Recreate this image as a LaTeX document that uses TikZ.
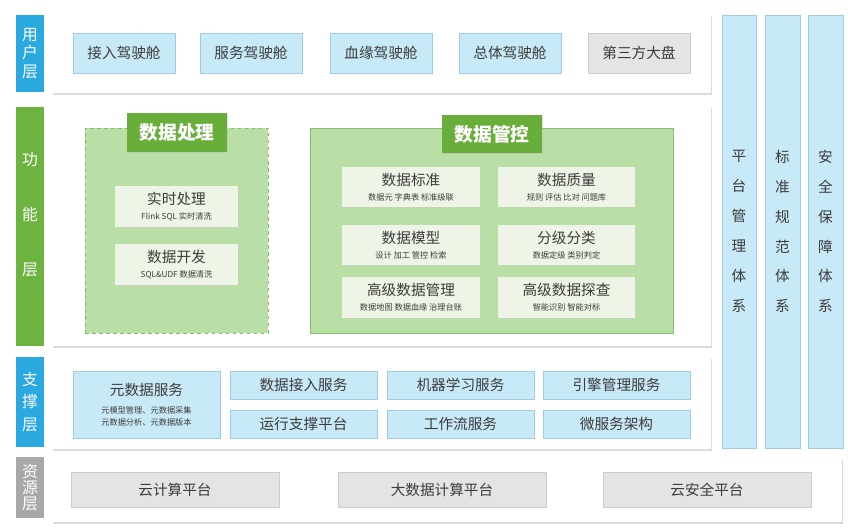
\documentclass[tikz,border=0pt]{standalone}
\usepackage{fontspec}
\setmainfont{Noto Sans CJK SC}
\usetikzlibrary{positioning,shadows}
\definecolor{layblue}{HTML}{2AA8E0}
\definecolor{laygreen}{HTML}{6DB33F}
\definecolor{laygray}{HTML}{A8A8A8}
\definecolor{tabgreen}{HTML}{69AE3B}
\definecolor{areagreen}{HTML}{B9DFA6}
\definecolor{linegreen}{HTML}{86BF68}
\definecolor{paleg}{HTML}{EEF5E6}
\definecolor{paleblue}{HTML}{C8E9F7}
\definecolor{edgeblue}{HTML}{9ECDE2}
\definecolor{palegray}{HTML}{E4E4E4}
\definecolor{edgegray}{HTML}{CCCCCC}
\definecolor{inktext}{HTML}{3C3C3C}
\newcommand\subfnt{\fontsize{7}{8}\selectfont}
\tikzset{
  wh/.style 2 args={minimum width=#1*0.03cm,minimum height=#2*0.03cm},
  layer/.style={fill=#1,text=white,inner sep=0,align=center,
                font=\fontsize{13.5}{17}\selectfont},
  panel/.style={fill=white,inner sep=0,
                drop shadow={shadow xshift=1pt,shadow yshift=-2pt,fill=black!28}},
  bluebox/.style={draw=edgeblue,fill=paleblue,inner sep=0,align=center,text=inktext,
                  font=\fontsize{12.5}{14}\selectfont,
                  drop shadow={shadow xshift=0.6pt,shadow yshift=-0.9pt,fill=black!25}},
  graybox/.style={bluebox,draw=edgegray,fill=palegray},
  gbox/.style={fill=paleg,inner sep=0,align=center,text=inktext,
               font=\fontsize{12.5}{15}\selectfont,
               drop shadow={shadow xshift=0.6pt,shadow yshift=-0.9pt,fill=black!20}},
  area/.style={fill=areagreen,draw=linegreen,thick,inner sep=0},
  tab/.style={fill=tabgreen,text=white,inner sep=0,
              font=\bfseries\fontsize{16}{18}\selectfont,
              drop shadow={shadow xshift=0.8pt,shadow yshift=-1.2pt,fill=black!25}},
  column/.style={draw=edgeblue,fill=paleblue,inner sep=0,align=center,text=inktext,
                 font=\fontsize{12.5}{25.5}\selectfont}
}
\begin{document}
\begin{tikzpicture}[x=0.03cm,y=-0.03cm]
  \useasboundingbox (0,0) rectangle (848,531);
  % user layer
  \node[layer=layblue, wh={28}{77}] (lyuser) at (30,53.5) {用\\[-1pt]户\\[-1pt]层};
  \node[panel, wh={659}{79}] (pnuser) at (381.5,53.5) {};
  \foreach \x/\t [count=\i] in {124/接入驾驶舱,251/服务驾驶舱,381/血缘驾驶舱,510/总体驾驶舱}
    \node[bluebox, wh={102}{40}] (cab\i) at (\x,53) {\t};
  \node[graybox, wh={102}{40}] (third) at (639,53) {第三方大盘};
  % function layer
  \node[layer=laygreen, wh={28}{239}] (lyfunc) at (30,226.5) {功\\[30pt]能\\[30pt]层\\[4pt]\mbox{}};
  \node[panel, wh={659}{240}] (pnfunc) at (381.5,226) {};
  \node[area, dashed, wh={183}{205}] (proc) at (176.5,230.5) {};
  \node[tab, wh={100}{39}] (proctab) at (177,132.5) {数据处理};
  \node[gbox, wh={123}{41}] (realtime) at (176.5,206.5) {实时处理\\[-2pt]{\subfnt Flink SQL 实时清洗}};
  \node[gbox, wh={123}{41}] (devel) at (176.5,264.5) {数据开发\\[-2pt]{\subfnt SQL\&UDF 数据清洗}};
  \node[area, wh={363}{205}] (ctrl) at (491.5,230.5) {};
  \node[tab, wh={100}{38}] (ctrltab) at (492,134) {数据管控};
  \node[gbox, wh={138}{40}] (std) at (411,187) {数据标准\\[-2pt]{\subfnt 数据元 字典表 标准级联}};
  \node[gbox, wh={137}{40}] (qual) at (566.5,187) {数据质量\\[-2pt]{\subfnt 规则 评估 比对 问题库}};
  \node[gbox, wh={138}{40}] (model) at (411,245) {数据模型\\[-2pt]{\subfnt 设计 加工 管控 检索}};
  \node[gbox, wh={137}{40}] (grade) at (566.5,245) {分级分类\\[-2pt]{\subfnt 数据定级 类别判定}};
  \node[gbox, wh={138}{41}] (advmgr) at (411,297.5) {高级数据管理\\[-2pt]{\subfnt 数据地图 数据血缘 治理台账}};
  \node[gbox, wh={137}{41}] (advexp) at (566.5,297.5) {高级数据探查\\[-2pt]{\subfnt 智能识别 智能对标}};
  % support layer
  \node[layer=layblue, wh={28}{90}] (lysupp) at (30,402) {支\\[2pt]撑\\[2pt]层};
  \node[panel, wh={659}{92}] (pnsupp) at (381.5,403) {};
  \node[bluebox, wh={147}{67}] (meta) at (146.5,404.5)
    {元数据服务\\[2pt]{\subfnt 元模型管理、元数据采集}\\[-4pt]{\subfnt 元数据分析、元数据版本}};
  \foreach \x/\t [count=\i] in {303.5/数据接入服务,460.5/机器学习服务,616.5/引擎管理服务}
    \node[bluebox, wh={147}{28}] (svcup\i) at (\x,385) {\t};
  \foreach \x/\t [count=\i] in {303.5/运行支撑平台,460.5/工作流服务,616.5/微服务架构}
    \node[bluebox, wh={147}{28}] (svclo\i) at (\x,424) {\t};
  % resource layer
  \node[layer=laygray, wh={28}{61}] (lyres) at (30,487.5) {资\\[-3pt]源\\[-3pt]层};
  \node[panel, wh={790}{65}] (pnres) at (447,489.5) {};
  \foreach \x/\t [count=\i] in {175/云计算平台,442/大数据计算平台,707/云安全平台}
    \node[graybox, wh={208}{35}] (res\i) at (\x,489.5) {\t};
  % side columns
  \node[column, wh={34}{433}] (colplat) at (739,231.5) {平\\台\\管\\理\\体\\系};
  \node[column, wh={35}{433}] (colstd) at (782.5,231.5) {标\\准\\规\\范\\体\\系};
  \node[column, wh={35}{433}] (colsafe) at (825.5,231.5) {安\\全\\保\\障\\体\\系};
\end{tikzpicture}
\end{document}
